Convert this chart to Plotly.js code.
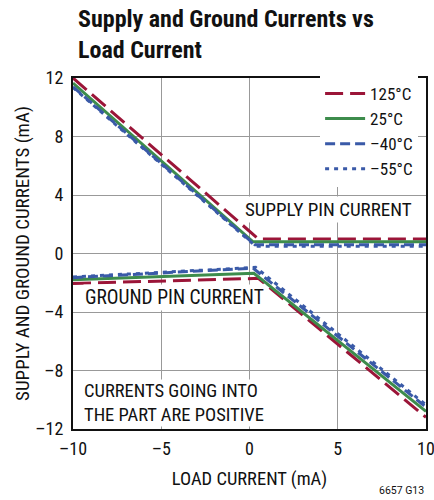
<!DOCTYPE html>
<html><head><meta charset="utf-8">
<script src="https://cdn.plot.ly/plotly-3.0.1.min.js"></script>
<style>html,body{margin:0;padding:0;background:#fff}#chart{width:434px;height:500px}</style>
</head><body><div id="chart"></div>
<script>
// supply pin currents
const supplyX_125 = [-10, 0.5, 10];
const supplyY_125 = [12.0, 1.0, 1.0];
const supplyX_25 = [-10, 0.2, 10];
const supplyY_25 = [11.65, 0.8, 0.8];
const supplyX_m40 = [-10, 0.3, 10];
const supplyY_m40 = [11.4, 0.6, 0.6];
const supplyX_m55 = [-10, 0.35, 10];
const supplyY_m55 = [11.35, 0.5, 0.5];
// ground pin currents
const groundX_125 = [-10, 0.5, 10];
const groundY_125 = [-2.05, -1.7, -11.2];
const groundX_25 = [-10, 0.25, 10];
const groundY_25 = [-1.8, -1.35, -10.8];
const groundX_m40 = [-10, 0.2, 10];
const groundY_m40 = [-1.65, -1.0, -10.5];
const groundX_m55 = [-10, 0.35, 10];
const groundY_m55 = [-1.6, -0.95, -10.35];

const legendNames = ['125°C', '25°C', '–40°C', '–55°C'];
const xTicks = [-10, -5, 0, 5, 10];
const xTickText = ['–10', '–5', '0', '5', '10'];
const yTicks = [-12, -8, -4, 0, 4, 8, 12];
const yTickText = ['–12', '–8', '–4', '0', '4', '8', '12'];

const COND = '"Roboto Condensed", "Liberation Sans Narrow", "Liberation Sans", Arial, sans-serif';
const REG = 'Roboto, "Liberation Sans", Arial, sans-serif';
const styles = [
  {color: '#9b1538', dash: '18px,7px'},
  {color: '#3d8c4c', dash: 'solid'},
  {color: '#3a5aa8', dash: '10px,5px'},
  {color: '#3a5aa8', dash: '4px,5px'}
];
const supplies = [[supplyX_125, supplyY_125], [supplyX_25, supplyY_25], [supplyX_m40, supplyY_m40], [supplyX_m55, supplyY_m55]];
const grounds = [[groundX_125, groundY_125], [groundX_25, groundY_25], [groundX_m40, groundY_m40], [groundX_m55, groundY_m55]];

const traces = [];
for (let i = 0; i < 4; i++) {
  traces.push({x: supplies[i][0], y: supplies[i][1], mode: 'lines', name: legendNames[i], legendgroup: 'g' + i,
    line: {color: styles[i].color, dash: styles[i].dash, width: 3}, showlegend: true});
}
for (let i = 0; i < 4; i++) {
  traces.push({x: grounds[i][0], y: grounds[i][1], mode: 'lines', name: legendNames[i], legendgroup: 'g' + i,
    line: {color: styles[i].color, dash: styles[i].dash, width: 3}, showlegend: false});
}

const layout = {
  width: 434, height: 500,
  margin: {l: 73, r: 8, t: 78, b: 71},
  paper_bgcolor: '#fff', plot_bgcolor: '#fff',
  font: {family: COND, color: '#111', size: 16},
  xaxis: {range: [-10, 10], tickvals: xTicks, ticktext: xTickText, showgrid: true, gridcolor: '#999', gridwidth: 1,
    zeroline: false, showline: true, linecolor: '#111', linewidth: 2, mirror: true, ticks: '',
    ticklabelstandoff: 2, ticklabeloverflow: 'allow',
    tickfont: {family: COND, size: 18}, title: {text: 'LOAD CURRENT (mA)', font: {family: COND, size: 18.5}, standoff: 14}},
  yaxis: {range: [-12, 12], tickvals: yTicks, ticktext: yTickText, showgrid: true, gridcolor: '#999', gridwidth: 1,
    zeroline: false, showline: true, linecolor: '#111', linewidth: 2, mirror: true, ticks: '',
    ticklabelstandoff: 4, ticklabeloverflow: 'allow',
    tickfont: {family: COND, size: 18}, title: {text: 'SUPPLY AND GROUND CURRENTS (mA)', font: {family: COND, size: 19}, standoff: 1}},
  legend: {x: 0.70, xanchor: 'left', y: 1.006, yanchor: 'top', bgcolor: '#fff', borderwidth: 0, itemwidth: 40,
    font: {family: COND, size: 17}, tracegroupgap: 0},
  annotations: [
    {text: '<b>Supply and Ground Currents vs<br>Load Current</b>', xref: 'paper', yref: 'paper', x: 0.0085, y: 1.215,
      xanchor: 'left', yanchor: 'top', align: 'left', showarrow: false, font: {family: COND, size: 24, color: '#111'}},
    {text: 'SUPPLY PIN CURRENT', x: 4.5, y: 2.98, xref: 'x', yref: 'y', showarrow: false, bgcolor: '#fff', font: {size: 19}},
    {text: 'GROUND PIN CURRENT', x: -4.25, y: -2.98, xref: 'x', yref: 'y', showarrow: false, bgcolor: '#fff', font: {size: 19.5}},
    {text: 'CURRENTS GOING INTO<br>THE PART ARE POSITIVE', x: -9.42, y: -10.2, xref: 'x', yref: 'y', xanchor: 'left',
      align: 'left', showarrow: false, bgcolor: '#fff', borderpad: 0, font: {size: 18.5}},
    {text: '6657 G13', xref: 'paper', yref: 'paper', x: 0.9995, xanchor: 'right', y: -0.176, yanchor: 'middle',
      showarrow: false, font: {family: REG, size: 10.5}}
  ]
};

Plotly.newPlot('chart', traces, layout, {displayModeBar: false, staticPlot: true});
</script>
</body></html>
